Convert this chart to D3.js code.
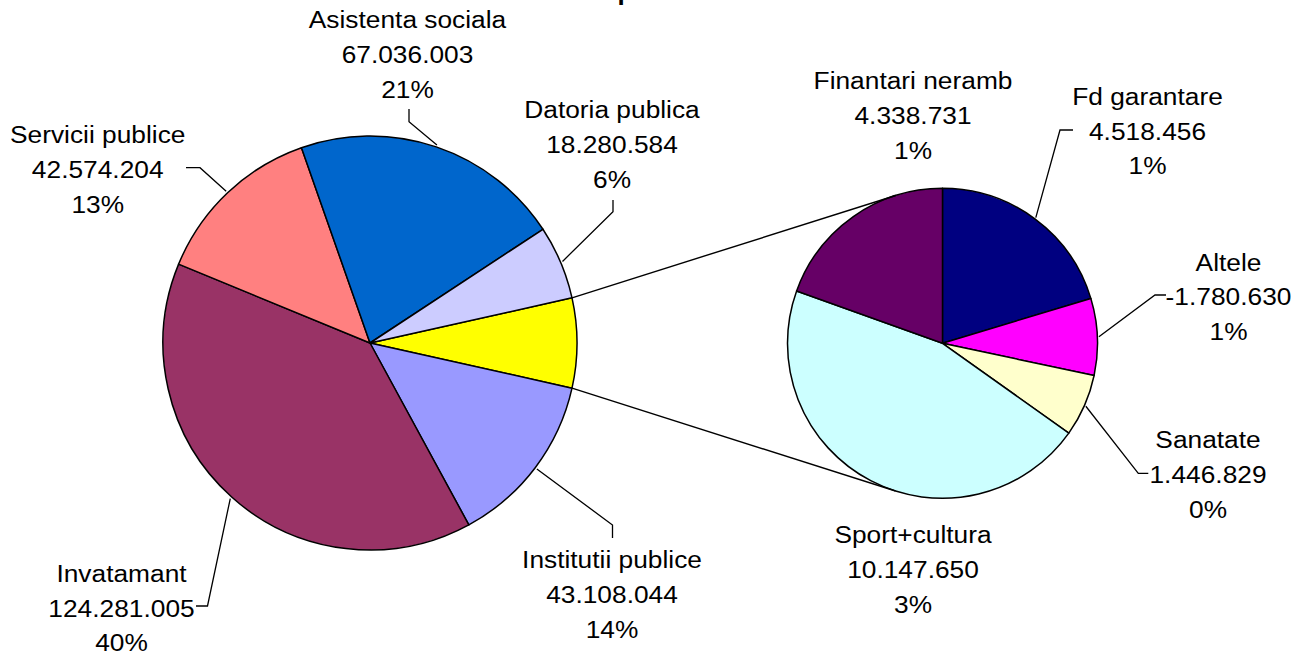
<!DOCTYPE html>
<html>
<head>
<meta charset="utf-8">
<script src="https://cdn.jsdelivr.net/npm/d3@7/dist/d3.min.js"></script>
<style>
  body { margin: 0; background: #fff; }
  svg { display: block; }
  text { font-family: "Liberation Sans", Arial, Helvetica, sans-serif; fill: #000; }
</style>
</head>
<body>
<svg id="chart" width="1291" height="653"></svg>
<script>
// main pie, clockwise after the "other" slice
var mainNames = ["Institutii publice", "Invatamant", "Servicii publice", "Asistenta sociala", "Datoria publica"];
var mainValues = [43108044, 124281005, 42574204, 67036003, 18280584];
var mainPct = ["14%", "40%", "13%", "21%", "6%"];
var mainColors = ["#9999FF", "#993366", "#FF8080", "#0066CC", "#CCCCFF"];
var otherColor = "#FFFF00";

// secondary pie, clockwise from 12 o'clock
var secNames = ["Fd garantare", "Altele", "Sanatate", "Sport+cultura", "Finantari neramb"];
var secValues = [4518456, -1780630, 1446829, 10147650, 4338731];
var secPct = ["1%", "1%", "0%", "3%", "1%"];
var secColors = ["#000080", "#FF00FF", "#FFFFCC", "#CCFFFF", "#660066"];

var titleText = "Structura cheltuielilor pe anul curent";

var W = 1291, H = 653;
var main = {cx: 370, cy: 343, r: 207},
    sec = {cx: 942.5, cy: 343.3, r: 155};

// label anchors (centre x, first baseline) and leader elbows
var mainLabelPos = [
    {x: 612, y: 568.3, leader: [[612.5, 525], [612.5, 538]]},
    {x: 121.5, y: 582, leader: [[207.5, 606], [196, 606]]},
    {x: 97.7, y: 143.3, leader: [[200, 167.7], [186, 167.7]]},
    {x: 407.5, y: 28.3, leader: [[409, 121.7], [409, 109]]},
    {x: 612, y: 118.3, leader: [[613, 211.7], [613, 200]]}
];
var secLabelPos = [
    {x: 1147.5, y: 105, leader: [[1060, 130], [1073, 130]]},
    {x: 1228.5, y: 270.7, leader: [[1155, 295], [1166, 295]]},
    {x: 1208, y: 448.3, leader: [[1138.3, 473.3], [1148.3, 473.3]]},
    {x: 913, y: 543.4, leader: null},
    {x: 913, y: 89.3, leader: null}
];

var lineH = 34.6, fontSize = 23.5, stretch = 1.12;

var fmt = d3.formatLocale({decimal: ",", thousands: ".", grouping: [3], currency: ["", ""], minus: "-"}).format(",d");

var svg = d3.select('#chart');
svg.append('rect').attr('width', W).attr('height', H).attr('fill', '#fff');

// title, mostly above the top edge
var title = svg.append('text')
    .attr('y', 0)
    .style('font-size', '26px')
    .style('font-weight', 'bold')
    .text(titleText);
var pIdx = titleText.indexOf('p');
title.attr('x', 617.5 - title.node().getSubStringLength(0, pIdx));

var otherTotal = d3.sum(secValues, function(v) { return Math.abs(v); });
var mainData = [otherTotal].concat(mainValues);
var otherShare = otherTotal / d3.sum(mainData);
var otherStart = Math.PI / 2 - otherShare * Math.PI;

var mainArcs = d3.pie()
    .sort(null)
    .value(function(d) { return d; })
    .startAngle(otherStart)
    .endAngle(otherStart + 2 * Math.PI)(mainData);

var secArcs = d3.pie()
    .sort(null)
    .value(function(d) { return Math.abs(d); })(secValues);

function rimPoint(p, a, k) {
    return [p.cx + p.r * k * Math.sin(a), p.cy - p.r * k * Math.cos(a)];
}

function drawPie(p, arcs, colors) {
    var arc = d3.arc().innerRadius(0).outerRadius(p.r);
    svg.append('g')
        .attr('transform', 'translate(' + p.cx + ',' + p.cy + ')')
        .selectAll('path')
        .data(arcs)
      .enter().append('path')
        .attr('d', arc)
        .attr('fill', function(d, i) { return colors[i]; })
        .attr('stroke', '#000')
        .attr('stroke-width', 1.5)
        .attr('stroke-linejoin', 'round');
}

drawPie(main, mainArcs, [otherColor].concat(mainColors));
drawPie(sec, secArcs, secColors);

// connector lines from the "other" slice to tangents of the secondary pie
function tangent(P, c, side) {
    var dx = c.cx - P[0], dy = c.cy - P[1],
        d = Math.sqrt(dx * dx + dy * dy),
        th = Math.atan2(dy, dx) + side * Math.asin(c.r / d),
        L = Math.sqrt(d * d - c.r * c.r);
    return [P[0] + L * Math.cos(th), P[1] + L * Math.sin(th)];
}
var pUp = rimPoint(main, mainArcs[0].startAngle, 1),
    pDown = rimPoint(main, mainArcs[0].endAngle, 1);
var line = d3.line();
svg.append('path').attr('d', line([pUp, tangent(pUp, sec, -1)]))
    .attr('fill', 'none').attr('stroke', '#000').attr('stroke-width', 1.4);
svg.append('path').attr('d', line([pDown, tangent(pDown, sec, 1)]))
    .attr('fill', 'none').attr('stroke', '#000').attr('stroke-width', 1.4);

function drawLabels(p, arcs, names, values, pct, pos) {
    arcs.forEach(function(a, i) {
        var lp = pos[i];
        if (lp.leader) {
            var mid = (a.startAngle + a.endAngle) / 2;
            var pts = [rimPoint(p, mid, 1.01)].concat(lp.leader);
            svg.append('path').attr('d', line(pts))
                .attr('fill', 'none').attr('stroke', '#000').attr('stroke-width', 1.3);
        }
        [names[i], fmt(values[i]), pct[i]].forEach(function(t, j) {
            svg.append('text')
                .attr('transform', 'translate(' + lp.x + ',' + (lp.y + j * lineH) + ') scale(' + stretch + ',1)')
                .attr('text-anchor', 'middle')
                .style('font-size', fontSize + 'px')
                .text(t);
        });
    });
}

drawLabels(main, mainArcs.slice(1), mainNames, mainValues, mainPct, mainLabelPos);
drawLabels(sec, secArcs, secNames, secValues, secPct, secLabelPos);
</script>
</body>
</html>
